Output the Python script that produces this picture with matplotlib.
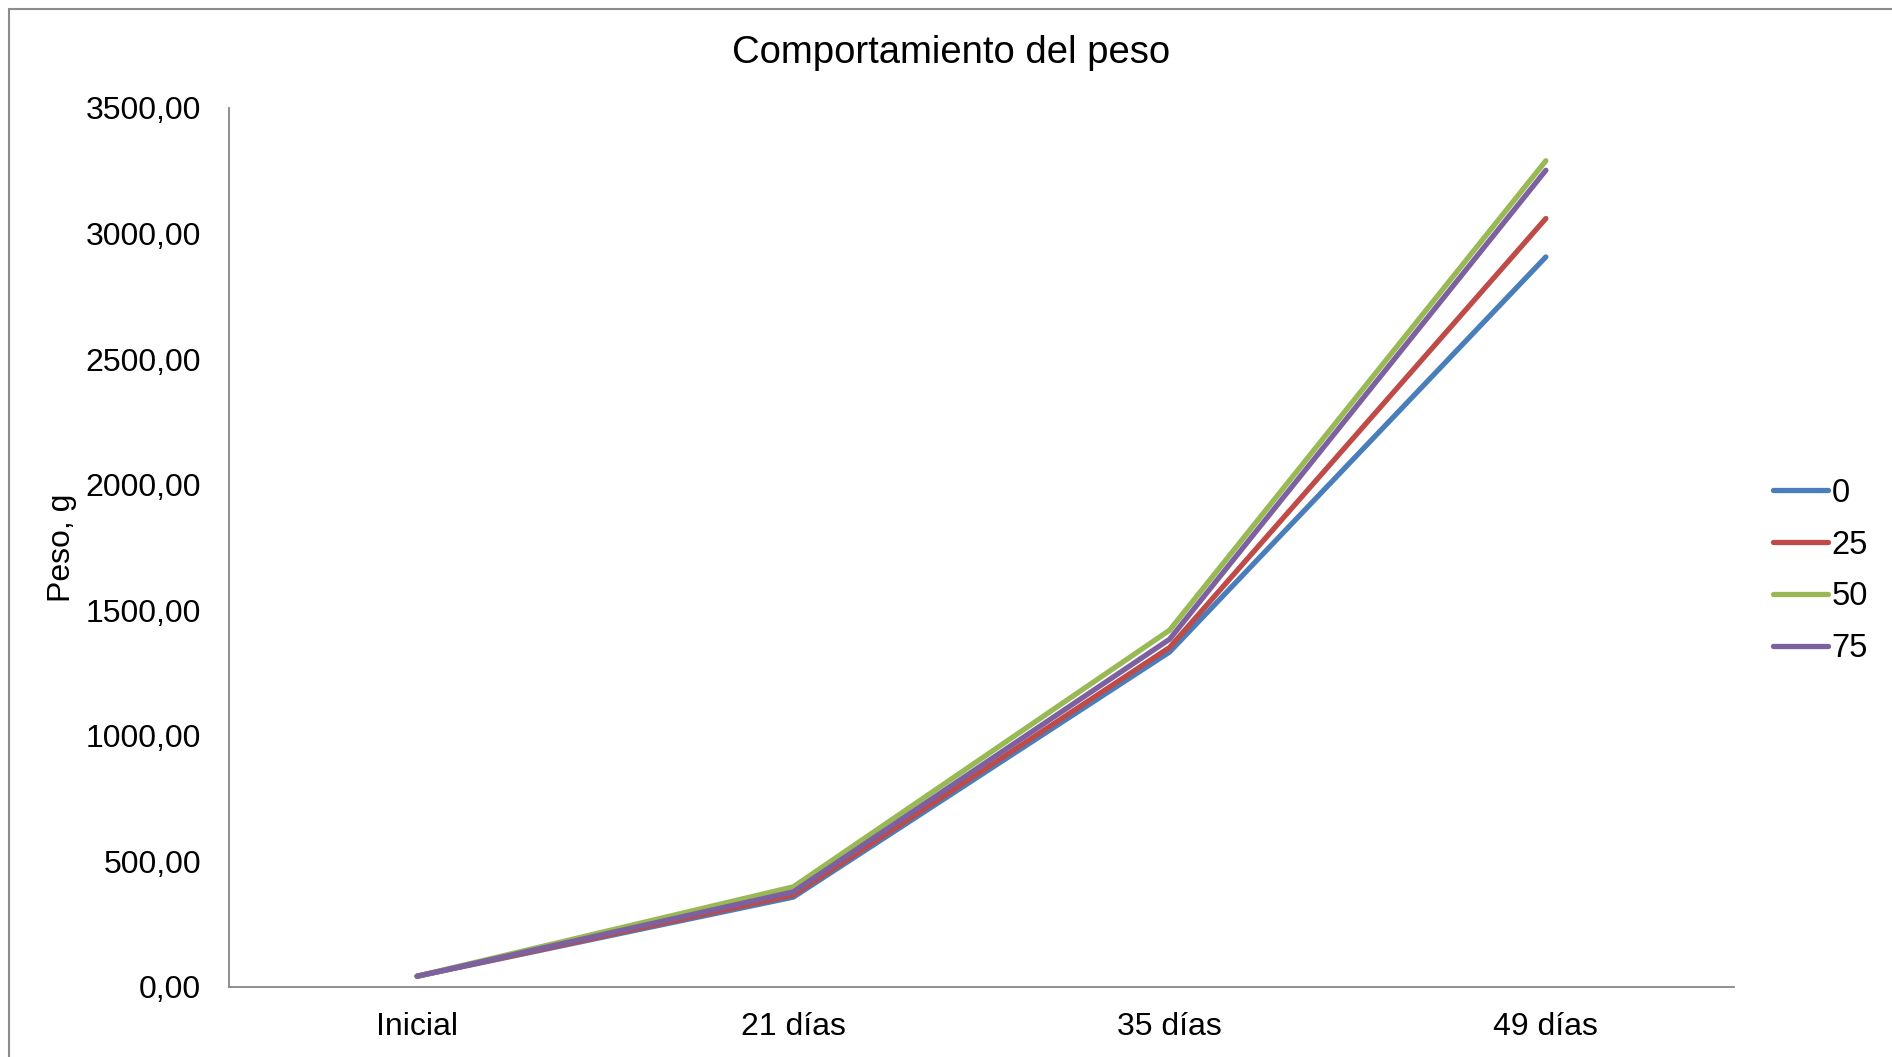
import matplotlib
matplotlib.use("Agg")
import matplotlib.pyplot as plt
from matplotlib.patches import Rectangle
from matplotlib.ticker import FuncFormatter, MultipleLocator

plt.rcParams['font.family'] = ['Liberation Sans', 'DejaVu Sans']

categories = ["Inicial", "21 días", "35 días", "49 días"]
series_names = ["0", "25", "50", "75"]
s0 = [43, 358, 1334, 2907]
s25 = [43, 366, 1352, 3060]
s50 = [43, 399, 1421, 3290]
s75 = [43, 379, 1385, 3252]
series_values = [s0, s25, s50, s75]
colors = ["#4A7EBB", "#BE4B48", "#98B954", "#7D60A0"]

W, H = 1892, 1057
fig = plt.figure(figsize=(W / 100, H / 100), dpi=100)
ax = fig.add_axes([229 / W, 1 - 987 / H, (1734 - 229) / W, (987 - 108) / H])

x = list(range(len(categories)))
handles = []
for name, vals, c in zip(series_names, series_values, colors):
    h, = ax.plot(x, vals, color=c, lw=3.8, solid_capstyle='round',
                 solid_joinstyle='round', label=name)
    handles.append(h)

ax.set_xlim(-0.5, len(categories) - 0.5)
ax.set_ylim(0, 3500)
ax.yaxis.set_major_locator(MultipleLocator(500))
ax.yaxis.set_major_formatter(FuncFormatter(lambda v, p: f"{v:.2f}".replace(".", ",")))
ax.set_xticks(x)
ax.set_xticklabels(categories)
ax.tick_params(axis='both', length=0, labelsize=23, colors='black')
ax.tick_params(axis='y', pad=20)
ax.tick_params(axis='x', pad=18)
for s in ['top', 'right']:
    ax.spines[s].set_visible(False)
for s in ['left', 'bottom']:
    ax.spines[s].set_color('#868686')
    ax.spines[s].set_linewidth(1.3)

ax.set_ylabel("Peso, g", fontsize=23)
ax.yaxis.set_label_coords((77 - 229) / (1734 - 229), 0.5)

fig.text(951 / W, 1 - 53 / H, "Comportamiento del peso", fontsize=27.5,
         ha='center', va='center')

fig.legend(handles=handles, labels=series_names, loc='center left',
           bbox_to_anchor=(1773 / W, 1 - 571 / H), frameon=False,
           fontsize=23.5, handlelength=1.7, handletextpad=0.1,
           labelspacing=0.64, borderpad=0, borderaxespad=0)

fig.add_artist(Rectangle((8.5 / W, -0.1), 1.2, 1.1 - 8.5 / H,
                         transform=fig.transFigure, fill=False,
                         edgecolor='#8C8C8C', lw=1.5, clip_on=False))

fig.savefig("out.png", dpi=100, facecolor='white')
